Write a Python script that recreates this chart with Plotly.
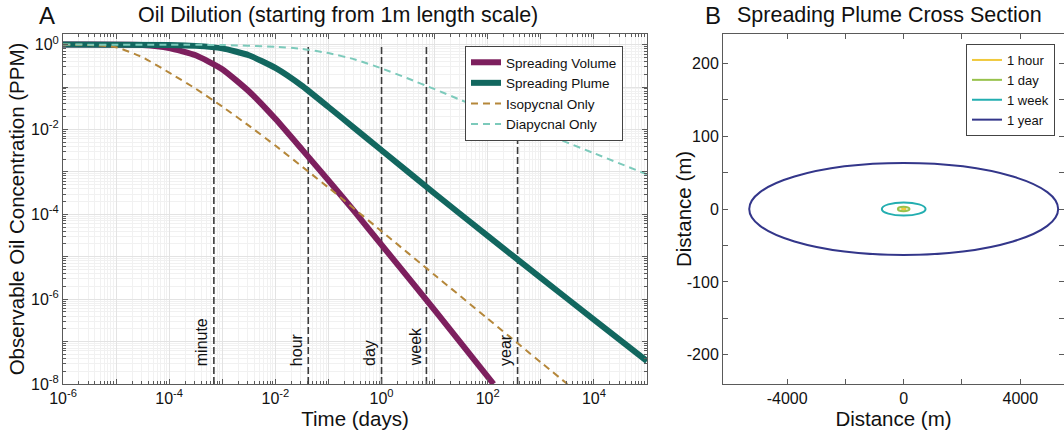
"""
Oil dilution figure: (A) concentration vs time on log axes, (B) plume cross section.
"""
import numpy as np
import plotly.graph_objects as go

# ── panel A data (log10 time in days, log10 concentration in PPM) ────────────
VOL_LOGT = [-6, -4.5, -4.0, -3.5, -3.0, -2.5, -2.0, -1.5, -1.0, -0.5, 0, 1.0, 2.11]
VOL_LOGC = [0, -0.01, -0.08, -0.25, -0.58, -1.1, -1.75, -2.47, -3.2, -3.95, -4.72, -6.26, -8.0]

PLUME_LOGT = [-6, -4.0, -3.5, -3.0, -2.5, -2.0, -1.5, -1.0, -0.5, 0, 1.0, 2.0, 3.0, 4.0, 5.0]
PLUME_LOGC = [0, -0.01, -0.03, -0.09, -0.25, -0.55, -0.97, -1.47, -1.98, -2.49, -3.51, -4.51, -5.5, -6.48, -7.46]

ISO_LOGT = [-6, -5.5, -5.0, -4.5, -4.0, -3.5, -3.0, -2.5, -2.0, -1.0, 0, 1.0, 2.0, 3.0, 3.5]
ISO_LOGC = [0, -0.01, -0.06, -0.3, -0.66, -1.04, -1.46, -1.91, -2.38, -3.37, -4.4, -5.43, -6.46, -7.49, -8.0]

DIA_LOGT = [-6, -3.0, -2.0, -1.5, -1.0, -0.5, 0, 0.5, 1.0, 1.5, 2.0, 3.0, 4.0, 5.0]
DIA_LOGC = [0, -0.01, -0.05, -0.1, -0.2, -0.35, -0.56, -0.8, -1.05, -1.31, -1.56, -2.06, -2.56, -3.06]

EVENT_NAMES = ['minute', 'hour', 'day', 'week', 'year']
EVENT_DAYS = [1 / 1440, 1 / 24, 1, 7, 365]

# ── panel B data (ellipse half-widths / half-heights in metres) ──────────────
PLUME_TIMES = ['1 hour', '1 day', '1 week', '1 year']
HALF_WIDTH_M = [60, 200, 750, 5300]
HALF_HEIGHT_M = [1, 3, 9, 63]

# ── colours ──────────────────────────────────────────────────────────────────
VOL_COLOR = '#7d1f5e'
PLUME_COLOR = '#12675f'
ISO_COLOR = '#b5873a'
DIA_COLOR = '#7ccabb'
EVENT_COLOR = '#3c3c3c'
TIME_COLORS = ['#f0c93c', '#98c24c', '#23aeb0', '#33368a']

FONT = 'Liberation Sans, Arial, sans-serif'
AXIS_COLOR = '#5a5a5a'
W, H = 1064, 431


def sup(k):
    return f'10<sup>{k}</sup>'


fig = go.Figure()

# event markers first so the curves sit on top
for name, day in zip(EVENT_NAMES, EVENT_DAYS):
    fig.add_trace(go.Scatter(
        x=[day, day], y=[1e-8, 1], mode='lines',
        line=dict(color=EVENT_COLOR, width=1.6, dash='7px,3px'),
        showlegend=False, hoverinfo='skip', xaxis='x', yaxis='y',
    ))
    fig.add_annotation(
        x=np.log10(day), y=-7.62, xref='x', yref='y', text=name,
        textangle=-90, xanchor='right', yanchor='bottom', xshift=-1,
        showarrow=False, font=dict(size=16, color='#111'),
    )

curves = [
    ('Spreading Volume', VOL_LOGT, VOL_LOGC, VOL_COLOR, 6, 'solid'),
    ('Spreading Plume', PLUME_LOGT, PLUME_LOGC, PLUME_COLOR, 6, 'solid'),
    ('Isopycnal Only', ISO_LOGT, ISO_LOGC, ISO_COLOR, 2, '7px,5px'),
    ('Diapycnal Only', DIA_LOGT, DIA_LOGC, DIA_COLOR, 2, '7px,5px'),
]
for name, lt, lc, color, width, dash in curves:
    fig.add_trace(go.Scatter(
        x=10 ** np.array(lt, dtype=float), y=10 ** np.array(lc, dtype=float),
        mode='lines', name=name,
        line=dict(color=color, width=width, dash=dash, shape='spline', smoothing=0.5),
        xaxis='x', yaxis='y', legend='legend',
    ))

# ── panel B : ellipses as data-space shapes, legend via empty traces ────────
for label, a, b, color in zip(PLUME_TIMES, HALF_WIDTH_M, HALF_HEIGHT_M, TIME_COLORS):
    fig.add_shape(type='circle', xref='x2', yref='y2', x0=-a, x1=a, y0=-b, y1=b,
                  line=dict(color=color, width=2))
    fig.add_trace(go.Scatter(
        x=[None], y=[None], mode='lines', name=label,
        line=dict(color=color, width=2), xaxis='x2', yaxis='y2', legend='legend2',
    ))

# ── titles ───────────────────────────────────────────────────────────────────
for text, x, size in [('A', 47, 24), ('Oil Dilution (starting from 1m length scale)', 338, 21.5),
                      ('B', 713, 24), ('Spreading Plume Cross Section', 889, 21.5)]:
    fig.add_annotation(x=x / W, y=1 - 15 / H, xref='paper', yref='paper', text=text,
                       showarrow=False, xanchor='center', yanchor='middle',
                       font=dict(size=size, color='#111'))

# panel B y title sits tight against its tick labels
fig.add_annotation(x=684 / W, y=1 - 209 / H, xref='paper', yref='paper', text='Distance (m)',
                   textangle=-90, showarrow=False, xanchor='center', yanchor='middle',
                   font=dict(size=20.5, color='#111'))

axis_common = dict(
    showline=True, linecolor=AXIS_COLOR, linewidth=1, mirror='ticks',
    ticks='inside', tickcolor=AXIS_COLOR, ticklen=5, zeroline=False,
    tickfont=dict(size=16, color='#111'), automargin=False,
)

decades_x = list(range(-6, 6))
decades_y = list(range(-8, 1))
y_dom = [1 - 384 / H, 1 - 34 / H]

fig.update_layout(
    width=W, height=H,
    margin=dict(l=0, r=0, t=0, b=0, autoexpand=False),
    paper_bgcolor='white', plot_bgcolor='white',
    font=dict(family=FONT, size=15, color='#111'),
    xaxis=dict(
        type='log', domain=[63 / W, 647 / W], range=[-6, 5], anchor='y',
        tickvals=[10.0 ** k for k in decades_x],
        ticktext=[sup(k) if k % 2 == 0 else '' for k in decades_x],
        showgrid=True, gridcolor='#e3e3e3',
        minor=dict(ticks='inside', ticklen=3, tickcolor=AXIS_COLOR, dtick='D1',
                   showgrid=True, gridcolor='#f1f1f1'),
        title=dict(text='Time (days)', font=dict(size=20.5), standoff=0),
        **axis_common,
    ),
    yaxis=dict(
        type='log', domain=y_dom, range=[-8, 0.25], anchor='x',
        tickvals=[10.0 ** k for k in decades_y],
        ticktext=[sup(k) if k % 2 == 0 else '' for k in decades_y],
        showgrid=True, gridcolor='#e3e3e3',
        minor=dict(ticks='inside', ticklen=3, tickcolor=AXIS_COLOR, dtick='D1',
                   showgrid=True, gridcolor='#f1f1f1'),
        title=dict(text='Observable Oil Concentration (PPM)', font=dict(size=20.5), standoff=0),
        **axis_common,
    ),
    xaxis2=dict(
        domain=[723 / W, 1.0], range=[-6200, 5500], anchor='y2',
        tickvals=[-4000, -2000, 0, 2000, 4000], ticktext=['-4000', '', '0', '', '4000'],
        showgrid=False,
        title=dict(text='Distance (m)', font=dict(size=20.5), standoff=0),
        **axis_common,
    ),
    yaxis2=dict(
        domain=y_dom, range=[-240, 240], anchor='x2',
        tickvals=[-200, -150, -100, -50, 0, 50, 100, 150, 200],
        ticktext=['-200', '', '-100', '', '0', '', '100', '', '200'],
        showgrid=False,
        **axis_common,
    ),
    legend=dict(
        x=623 / W, y=1 - 46 / H, xanchor='right', yanchor='top',
        bgcolor='white', bordercolor='#444', borderwidth=1,
        font=dict(size=13.5), tracegroupgap=0, itemwidth=30,
    ),
    legend2=dict(
        x=1055 / W, y=1 - 44 / H, xanchor='right', yanchor='top',
        bgcolor='white', bordercolor='#444', borderwidth=1,
        font=dict(size=13), tracegroupgap=0, itemwidth=30,
    ),
)

# the page body has a default 8px margin; drop it so the figure fills the window
fig.write_html('out.html', config={'displayModeBar': False},
               post_script="document.body.style.margin='0';")
